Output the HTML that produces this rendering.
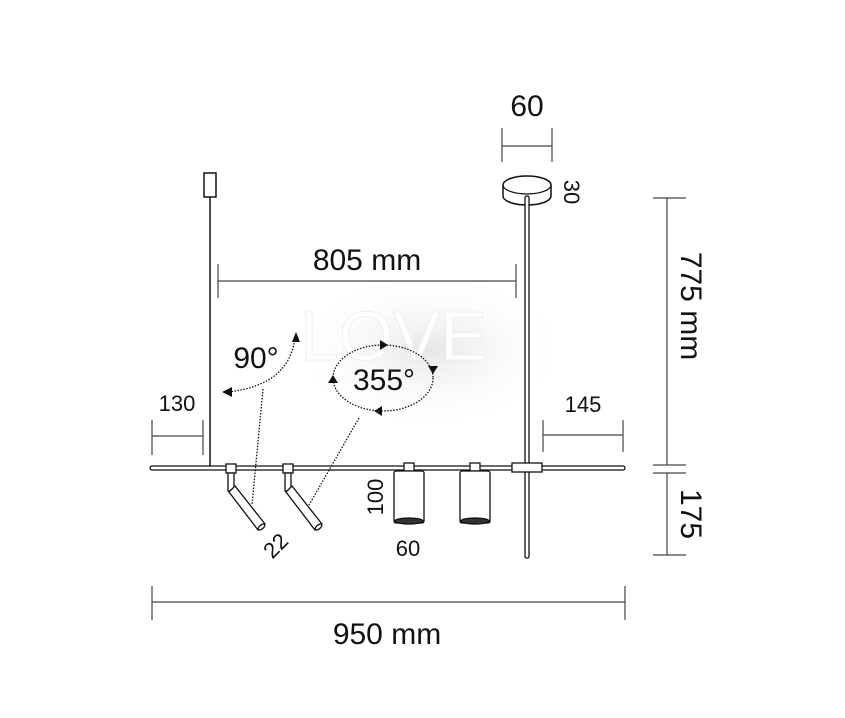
<!DOCTYPE html>
<html><head><style>html,body{margin:0;padding:0;background:#fff;}svg{display:block}</style></head>
<body>
<svg width="845" height="718" viewBox="0 0 845 718" xmlns="http://www.w3.org/2000/svg" font-family="Liberation Sans, sans-serif" fill="none" stroke="#111">
<defs>
<radialGradient id="wm" cx="50%" cy="50%" r="50%"><stop offset="0" stop-color="#e6e6e6"/><stop offset="1" stop-color="#fff" stop-opacity="0"/></radialGradient>
</defs>
<ellipse cx="430" cy="350" rx="140" ry="80" fill="url(#wm)" stroke="none"/>
<text x="300" y="360" font-size="70" fill="#fff" stroke="#eee" stroke-width="1">LOVE</text>
<!-- left suspension -->
<rect x="204" y="173" width="12" height="24" stroke-width="1.5"/>
<line x1="210" y1="197" x2="210" y2="466" stroke-width="1.5"/>
<!-- canopy -->
<path d="M503 185 A24 9 0 0 1 551 185 L551 196 A24 9 0 0 1 503 196 Z" stroke-width="1.5" fill="#fff"/>
<path d="M503 185 A24 9 0 0 0 551 185" stroke-width="1.2"/>
<rect x="525" y="196" width="4" height="362" rx="1.5" stroke-width="1.3" fill="#fff"/>
<!-- bar -->
<rect x="150" y="466" width="475" height="4" rx="2" stroke-width="1.3" fill="#fff"/>
<rect x="512" y="463" width="30" height="9" stroke-width="1.3" fill="#fff"/>
<!-- spotlights -->
<g stroke-width="1.3" fill="#fff">
<rect x="226" y="464" width="10" height="9"/><rect x="228" y="473" width="6" height="18"/>
<path d="M229 492 L235 486 L265 524 L258 530 Z"/><ellipse cx="261.5" cy="527" rx="4" ry="2" transform="rotate(-40 261.5 527)"/>
<rect x="283" y="464" width="10" height="9"/><rect x="285" y="473" width="6" height="18"/>
<path d="M286 492 L292 486 L322 524 L315 530 Z"/><ellipse cx="318.5" cy="527" rx="4" ry="2" transform="rotate(-40 318.5 527)"/>
<rect x="404" y="463" width="10" height="8"/>
<rect x="394" y="471" width="30" height="52" rx="2"/>
<ellipse cx="409" cy="521" rx="14" ry="3" fill="#333"/>
<rect x="470" y="463" width="10" height="8"/>
<rect x="460" y="471" width="30" height="52" rx="2"/>
<ellipse cx="475" cy="521" rx="14" ry="3" fill="#333"/>
</g>
<!-- dimension lines -->
<g stroke="#444" stroke-width="1.2">
<line x1="502" y1="146" x2="552" y2="146"/><line x1="502" y1="128" x2="502" y2="162"/><line x1="552" y1="128" x2="552" y2="162"/>
<line x1="218" y1="281" x2="516" y2="281"/><line x1="218" y1="264" x2="218" y2="298"/><line x1="516" y1="264" x2="516" y2="298"/>
<line x1="152" y1="436" x2="203" y2="436"/><line x1="152" y1="420" x2="152" y2="455"/><line x1="203" y1="420" x2="203" y2="455"/>
<line x1="543" y1="435" x2="623" y2="435"/><line x1="543" y1="420" x2="543" y2="452"/><line x1="623" y1="420" x2="623" y2="452"/>
<line x1="667" y1="198" x2="667" y2="465"/><line x1="653" y1="198" x2="686" y2="198"/><line x1="653" y1="465" x2="686" y2="465"/>
<line x1="667" y1="473" x2="667" y2="555"/><line x1="653" y1="473" x2="686" y2="473"/><line x1="653" y1="555" x2="686" y2="555"/>
<line x1="152" y1="602" x2="625" y2="602"/><line x1="152" y1="586" x2="152" y2="620"/><line x1="625" y1="586" x2="625" y2="620"/>
</g>
<!-- dotted annotations -->
<g stroke="#111" stroke-width="1.3" stroke-dasharray="1.5 1.5">
<path d="M295 337 Q290 385 228 392"/>
<line x1="263" y1="389" x2="252" y2="505"/>
<ellipse cx="383" cy="378" rx="50" ry="33"/>
<line x1="359" y1="418" x2="309" y2="505"/>
</g>
<g fill="#111" stroke="none">
<path d="M296 332 L292 342 L300 342 Z"/>
<path d="M222 392 L232 387 L232 397 Z"/>
<path d="M388 345 L380 340 L380 350 Z"/>
<path d="M433 374 L428 366 L438 366 Z"/>
<path d="M374 411 L382 406 L382 416 Z"/>
<path d="M333 375 L328 383 L338 383 Z"/>
</g>
<!-- texts -->
<g fill="#111" stroke="none" font-size="30">
<text x="527" y="116" text-anchor="middle">60</text>
<text x="367" y="270" text-anchor="middle">805 mm</text>
<text x="387" y="644" text-anchor="middle">950 mm</text>
<text x="256" y="368" text-anchor="middle">90°</text>
<text x="384" y="390" text-anchor="middle">355°</text>
<text transform="translate(681 306) rotate(90)" text-anchor="middle">775 mm</text>
<text transform="translate(681 514) rotate(90)" text-anchor="middle">175</text>
</g>
<g fill="#111" stroke="none" font-size="22">
<text x="177" y="411" text-anchor="middle">130</text>
<text x="583" y="412" text-anchor="middle">145</text>
<text x="408" y="556" text-anchor="middle">60</text>
<text transform="translate(383 497) rotate(-90)" text-anchor="middle">100</text>
<text transform="translate(281 551) rotate(-45)" text-anchor="middle">22</text>
<text transform="translate(564 192) rotate(90)" text-anchor="middle">30</text>
</g>
</svg>
</body></html>
